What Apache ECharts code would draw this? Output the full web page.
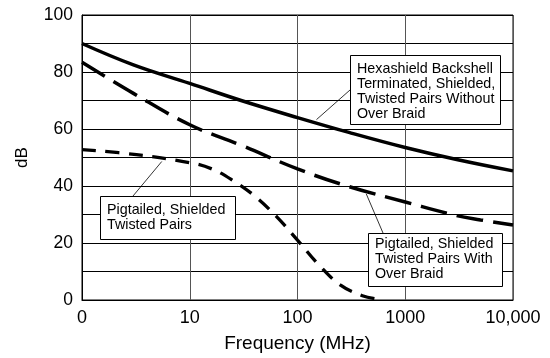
<!DOCTYPE html>
<html>
<head>
<meta charset="utf-8">
<script src="https://cdn.jsdelivr.net/npm/echarts@6/dist/echarts.min.js"></script>
<style>
html,body{margin:0;padding:0;background:#fff;}
#chart{width:550px;height:358px;}
</style>
</head>
<body>
<div id="chart"></div>
<script>
// Data
var hexFreq = [1, 3, 10, 30, 100, 300, 1000, 3000, 10000];
var hexDb = [90, 82.5, 76, 70, 64, 58.8, 53.5, 49.3, 45.3];

var braidFreq = [1, 3, 10, 30, 100, 300, 1000, 3000, 5000, 10000];
var braidDb = [83.4, 72.5, 61.5, 54.3, 46, 39.8, 34.4, 29.6, 28.1, 26.3];

var pigFreq = [1, 3.2, 10, 16, 25, 40, 63, 100, 158, 251, 400, 550];
var pigDb = [52.8, 51, 48.2, 46, 42, 36.5, 29.5, 21, 12.3, 5.2, 1.5, 0.3];

var yTicks = [0, 20, 40, 60, 80, 100];
var xTickLabels = {1: '0', 10: '10', 100: '100', 1000: '1000', 10000: '10,000'};

var notes = [
  {text: 'Hexashield Backshell\nTerminated, Shielded,\nTwisted Pairs Without\nOver Braid', anchor: [150, 63.3]},
  {text: 'Pigtailed, Shielded\nTwisted Pairs', anchor: [5.5, 48.6]},
  {text: 'Pigtailed, Shielded\nTwisted Pairs With\nOver Braid', anchor: [435, 37.2]}
];

function pairs(xs, ys) { return xs.map(function (x, i) { return [x, ys[i]]; }); }

var FONT = '"Liberation Sans", Arial, Helvetica, sans-serif';
var chart = echarts.init(document.getElementById('chart'), null, {renderer: 'canvas'});

var option = {
  animation: false,
  backgroundColor: '#fff',
  grid: {left: 82, right: 37, top: 15, bottom: 54, show: true, borderColor: '#000', borderWidth: 1},
  xAxis: {
    type: 'log', logBase: 10, min: 1, max: 10000,
    name: 'Frequency (MHz)', nameLocation: 'middle', nameGap: 34,
    nameTextStyle: {fontFamily: FONT, fontSize: 19, color: '#000'},
    axisLine: {lineStyle: {color: '#000', width: 1}},
    axisTick: {show: false},
    axisLabel: {fontFamily: FONT, fontSize: 18, color: '#000', margin: 9,
      formatter: function (v) { var k = Math.round(v); return xTickLabels[k] !== undefined ? xTickLabels[k] : ''; }},
    splitLine: {show: true, lineStyle: {color: '#555', width: 1}}
  },
  yAxis: {
    type: 'value', min: 0, max: 100, interval: 10,
    name: 'dB', nameLocation: 'middle', nameGap: 51,
    nameTextStyle: {fontFamily: FONT, fontSize: 17, color: '#000'},
    axisLine: {show: true, lineStyle: {color: '#000', width: 1}},
    axisTick: {show: false},
    axisLabel: {fontFamily: FONT, fontSize: 17.5, color: '#000', margin: 9,
      formatter: function (v) { return yTicks.indexOf(v) >= 0 ? String(v) : ''; }},
    splitLine: {show: true, lineStyle: {color: '#000', width: 1}}
  },
  series: [
    {type: 'line', data: pairs(hexFreq, hexDb), smooth: 0.4, symbol: 'none',
      lineStyle: {color: '#000', width: 3.5, type: 'solid'}, z: 3},
    {type: 'line', data: pairs(braidFreq, braidDb), smooth: 0.4, symbol: 'none',
      lineStyle: {color: '#000', width: 3.5, type: [27, 10]}, z: 3},
    {type: 'line', data: pairs(pigFreq, pigDb), smooth: 0.4, symbol: 'none',
      lineStyle: {color: '#000', width: 3.3, type: [14, 9.5]}, z: 3}
  ]
};
chart.setOption(option);

// Annotation boxes (layout in pixels), leader lines end on curve points
var boxes = [
  {x: 350, y: 55, w: 150, h: 69, tx: 357, ty: 62, lx: 350, ly: 90},
  {x: 100, y: 196, w: 135, h: 43, tx: 107, ty: 202.5, lx: 133, ly: 196},
  {x: 368, y: 233, w: 134, h: 53, tx: 375, ty: 236.5, lx: 383, ly: 233}
];
var graphics = [];
notes.forEach(function (n, i) {
  var b = boxes[i];
  var p = chart.convertToPixel({gridIndex: 0}, n.anchor);
  graphics.push({type: 'line', z: 10, shape: {x1: b.lx, y1: b.ly, x2: p[0], y2: p[1]},
    style: {stroke: '#000', lineWidth: 0.8}});
  graphics.push({type: 'rect', z: 11, shape: {x: b.x + 0.5, y: b.y + 0.5, width: b.w, height: b.h},
    style: {fill: '#fff', stroke: '#000', lineWidth: 1}});
  graphics.push({type: 'text', z: 12, x: b.tx, y: b.ty,
    style: {text: n.text, fontFamily: FONT, fontSize: 14.3, lineHeight: 15, fill: '#000',
      textAlign: 'left', textVerticalAlign: 'top'}});
});
chart.setOption({graphic: graphics});
</script>
</body>
</html>
